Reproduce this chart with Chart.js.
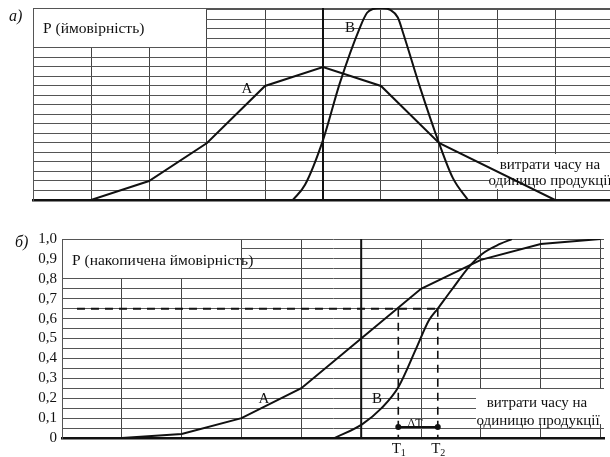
<!DOCTYPE html>
<html><head><meta charset="utf-8">
<script src="https://cdn.jsdelivr.net/npm/chart.js@4.4.0/dist/chart.umd.min.js"></script>
<style>
html,body{margin:0;padding:0;background:#fff;}
#wrap{position:relative;width:610px;height:457px;overflow:hidden;}
.box{position:absolute;left:0;width:610px;}
</style></head><body>
<div id="wrap">
<div class="box" style="top:0;height:210px"><canvas id="c1" width="610" height="210"></canvas></div>
<div class="box" style="top:210px;height:247px"><canvas id="c2" width="610" height="247"></canvas></div>
</div>
<script>
// ---------- data: chart a) probability density ----------
const topAX = [1, 2, 3, 4, 5, 6, 7, 9];
const topAY = [0, 2, 6, 12, 14, 12, 6, 0];
const topBX = [4.48, 4.69, 5.0, 5.29, 5.64, 5.76, 5.86, 6.02, 6.16, 6.29, 6.38, 6.67, 7.0, 7.24, 7.5];
const topBY = [0, 1.6, 6.3, 12.3, 18.2, 19.7, 20.1, 20.2, 20.0, 19.2, 17.6, 11.9, 6.0, 2.3, 0];
const topXGrid = [0, 1, 2, 3, 4, 5, 6, 7, 8, 9];
const topYGrid = [0,1,2,3,4,5,6,7,8,9,10,11,12,13,14,15,16,17,18,19,20,20.2];
const topDivider = 5;

// ---------- data: chart б) cumulative probability ----------
const botAX = [1, 2, 3, 4, 5, 6, 7, 8, 9];
const botAY = [0, 0.02, 0.1, 0.25, 0.5, 0.75, 0.895, 0.975, 1.0];
const botBX = [4.56, 5.02, 5.34, 5.62, 5.92, 6.13, 6.28, 6.5, 6.83, 7.02, 7.32, 7.52];
const botBY = [0, 0.07, 0.15, 0.255, 0.45, 0.59, 0.65, 0.74, 0.87, 0.925, 0.975, 1.0];
const botXGrid = [0, 1, 2, 3, 4, 5, 6, 7, 8, 9];
const botYTicks = [0,0.05,0.1,0.15,0.2,0.25,0.3,0.35,0.4,0.45,0.5,0.55,0.6,0.65,0.7,0.75,0.8,0.85,0.9,0.95,1.0];
const botDivider = 5;
const levelP = 0.65;
const levelStartX = 0.25;
const markerX = [5.62, 6.28];
const markerLabels = ['T', 'T'];
const markerSubs = ['1', '2'];
const deltaY = 0.055;

const SERIF = "'Liberation Serif', 'Times New Roman', serif";
const INK = '#111';

function pts(xs, ys) { return xs.map((x, i) => ({x, y: ys[i]})); }

function drawText(ctx, t, x, y, align, size, style) {
  ctx.save();
  ctx.font = (style || '') + ' ' + size + 'px ' + SERIF;
  ctx.fillStyle = INK;
  ctx.textAlign = align || 'left';
  ctx.textBaseline = 'alphabetic';
  ctx.fillText(t, x, y);
  ctx.restore();
}

// plugin: mask label boxes, then write labels
function makeDecor(cfg) {
  return {
    id: 'decor',
    beforeDatasetsDraw(chart) {
      const {ctx, scales: {x, y}} = chart;
      ctx.save();
      ctx.fillStyle = '#fff';
      const b = cfg.box;
      const x0 = x.getPixelForValue(b[0]) + 1, x1 = x.getPixelForValue(b[1]) - 1;
      const y0 = y.getPixelForValue(b[3]) + 1, y1 = y.getPixelForValue(b[2]) - 1;
      ctx.fillRect(Math.round(x0), Math.round(y0), Math.round(x1 - x0), Math.round(y1 - y0));
      const m = cfg.textMask;
      ctx.fillRect(m[0], m[1], m[2], m[3]);
      ctx.restore();
    },
    afterDatasetsDraw(chart) {
      const ctx = chart.ctx;
      cfg.texts.forEach(t => drawText(ctx, t.t, t.x, t.y, t.a, t.s || 15, t.st));
      if (cfg.after) cfg.after(chart);
    }
  };
}

// ---------- chart a) ----------
new Chart(document.getElementById('c1'), {
  type: 'line',
  data: {
    datasets: [
      {data: pts(topAX, topAY), borderColor: INK, borderWidth: 2, pointRadius: 0, tension: 0},
      {data: pts(topBX, topBY), borderColor: INK, borderWidth: 2, pointRadius: 0, cubicInterpolationMode: 'monotone'},
      {data: [{x: topDivider, y: 0}, {x: topDivider, y: 20.2}], borderColor: INK, borderWidth: 2, pointRadius: 0}
    ]
  },
  options: {
    responsive: false, animation: false, devicePixelRatio: 1,
    layout: {padding: {left: 33, top: 8, right: 0, bottom: 10}},
    plugins: {legend: {display: false}, tooltip: {enabled: false}},
    scales: {
      x: {type: 'linear', min: 0, max: 577 / 58,
        afterBuildTicks: s => { s.ticks = topXGrid.map(v => ({value: v})); },
        afterFit: s => { s.height = 0; },
        ticks: {display: false}, grid: {color: '#444', lineWidth: 1, drawTicks: false},
        border: {display: true, color: INK, width: 2.5}},
      y: {type: 'linear', min: 0, max: 20.2,
        afterBuildTicks: s => { s.ticks = topYGrid.map(v => ({value: v})); },
        afterFit: s => { s.width = 0; },
        ticks: {display: false}, grid: {color: '#555', lineWidth: 1, drawTicks: false},
        border: {display: true, color: '#555', width: 1}}
    }
  },
  plugins: [makeDecor({
    box: [0, 3, 16, 20.2],
    textMask: [490, 154, 120, 35],
    texts: [
      {t: 'а)', x: 9, y: 21, s: 16, st: 'italic'},
      {t: 'P (ймовірність)', x: 43, y: 33, s: 15.5},
      {t: 'A', x: 247, y: 93, a: 'center'},
      {t: 'B', x: 350, y: 32, a: 'center'},
      {t: 'витрати часу на', x: 550, y: 169, a: 'center'},
      {t: 'одиницю продукції', x: 550, y: 185, a: 'center'}
    ]
  })]
});

// ---------- chart б) ----------
new Chart(document.getElementById('c2'), {
  type: 'line',
  data: {
    datasets: [
      {data: pts(botAX, botAY), borderColor: INK, borderWidth: 2, pointRadius: 0, tension: 0},
      {data: pts(botBX, botBY), borderColor: INK, borderWidth: 2, pointRadius: 0, cubicInterpolationMode: 'monotone'},
      {data: [{x: botDivider, y: 0}, {x: botDivider, y: 1}], borderColor: INK, borderWidth: 2, pointRadius: 0},
      {data: [{x: levelStartX, y: levelP}, {x: markerX[1], y: levelP}], borderColor: INK, borderWidth: 2, borderDash: [8, 6], pointRadius: 0},
      {data: [{x: markerX[0], y: levelP}, {x: markerX[0], y: 0}], borderColor: INK, borderWidth: 1.6, borderDash: [8, 6], pointRadius: 0},
      {data: [{x: markerX[1], y: levelP}, {x: markerX[1], y: 0}], borderColor: INK, borderWidth: 1.6, borderDash: [8, 6], pointRadius: 0},
      {data: [{x: markerX[0], y: deltaY}, {x: markerX[1], y: deltaY}], borderColor: INK, borderWidth: 2, pointRadius: 2, pointBackgroundColor: INK, pointBorderColor: INK}
    ]
  },
  options: {
    responsive: false, animation: false, devicePixelRatio: 1,
    layout: {padding: {left: 0, top: 29, right: 0, bottom: 19}},
    plugins: {legend: {display: false}, tooltip: {enabled: false}},
    scales: {
      x: {type: 'linear', min: 0, max: 548 / 60.5,
        afterBuildTicks: s => { s.ticks = botXGrid.map(v => ({value: v})); },
        afterFit: s => { s.height = 0; },
        ticks: {display: false}, grid: {color: '#444', lineWidth: 1, drawTicks: false},
        border: {display: true, color: INK, width: 2.5}},
      y: {type: 'linear', min: 0, max: 1,
        afterBuildTicks: s => { s.ticks = botYTicks.map(v => ({value: v})); },
        afterFit: s => { s.width = 62; },
        ticks: {autoSkip: false, padding: 5, color: INK, font: {family: SERIF, size: 15},
          callback: v => { const k = Math.round(v * 100); if (k % 10) return ''; if (k === 0) return '0'; return (k / 100).toFixed(1).replace('.', ','); }},
        grid: {color: '#555', lineWidth: 1, drawTicks: false},
        border: {display: true, color: '#555', width: 1}}
    }
  },
  plugins: [makeDecor({
    box: [0, 3, 0.8, 1.0],
    textMask: [476, 179, 134, 35],
    texts: [
      {t: 'б)', x: 15, y: 37, s: 16, st: 'italic'},
      {t: 'P (накопичена ймовірність)', x: 72, y: 55, s: 15.5},
      {t: 'A', x: 264, y: 193, a: 'center'},
      {t: 'B', x: 377, y: 193, a: 'center'},
      {t: 'витрати часу на', x: 537, y: 197, a: 'center'},
      {t: 'одиницю продукції', x: 538, y: 215, a: 'center'},
      {t: 'ΔT', x: 415, y: 217, a: 'center', s: 12}
    ],
    after(chart) {
      const x = chart.scales.x, ctx = chart.ctx;
      markerX.forEach((v, i) => {
        const px = x.getPixelForValue(v);
        drawText(ctx, markerLabels[i], px - 2, 243, 'center', 15);
        drawText(ctx, markerSubs[i], px + 5, 246, 'center', 10);
      });
    }
  })]
});
</script>
</body></html>
